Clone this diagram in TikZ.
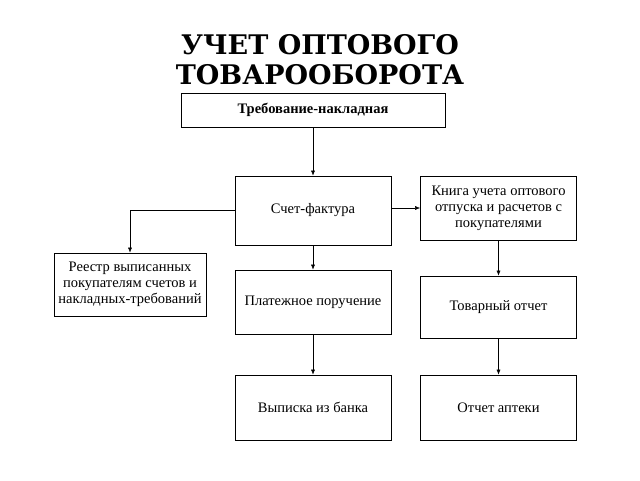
\documentclass[tikz,border=0pt]{standalone}
\usepackage{fontspec}
\setmainfont{Liberation Serif}
\newfontfamily\titlefont{DejaVu Serif}
\usetikzlibrary{arrows.meta}
\usetikzlibrary{positioning}
\tikzset{
  docbox/.style={draw, thick, minimum width=156pt, minimum height=64pt, align=center, inner sep=1pt, font=\fontsize{14.5}{16}\selectfont},
  flow/.style={draw, arrows = {-Latex[length=5pt, width=4pt]}}
}
\begin{document}
\begin{tikzpicture}[x=1pt,y=-1pt]
\useasboundingbox (0,0) rectangle (640,480);
\node[font=\titlefont\bfseries\fontsize{27}{30}\selectfont, align=center] (title) at (320,60) {УЧЕТ ОПТОВОГО\\ТОВАРООБОРОТА};
\node[docbox, minimum width=264pt, minimum height=34pt, font=\bfseries\fontsize{14.5}{16}\selectfont] (demand) at (313,110) {Требование-накладная};
\node[docbox, minimum height=69pt] (invoice) at (313,210.5) {Счет-фактура};
\node[docbox] (book) at (498.5,208) {Книга учета оптового\\отпуска и расчетов с\\покупателями};
\node[docbox, minimum width=152pt, minimum height=63pt] (register) at (130,284.5) {Реестр выписанных\\покупателям счетов и\\накладных-требований};
\node[docbox] (payment) at (313,302) {Платежное поручение};
\node[docbox, minimum height=62pt] (goods) at (498.5,307) {Товарный отчет};
\node[docbox, minimum height=65pt] (bank) at (313,407.5) {Выписка из банка};
\node[docbox, minimum height=65pt] (pharmacy) at (498.5,407.5) {Отчет аптеки};
\draw[flow] (demand) -- (invoice);
\draw[flow] (invoice.west) -| (register.north);
\draw[flow] (invoice.east |- book) -- (book.west);
\draw[flow] (invoice) -- (payment);
\draw[flow] (payment) -- (bank);
\draw[flow] (book) -- (goods);
\draw[flow] (goods) -- (pharmacy);
\end{tikzpicture}
\end{document}
